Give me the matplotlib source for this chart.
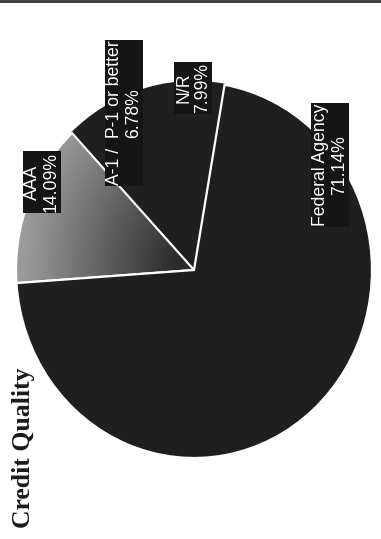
"""Credit Quality pie chart (scanned page, rotated 90 degrees)."""
import matplotlib
matplotlib.use('Agg')
import matplotlib.pyplot as plt
import numpy as np
from matplotlib.colors import LinearSegmentedColormap
from matplotlib.lines import Line2D

labels = ['AAA', 'A-1 /  P-1 or better', 'N/R', 'Federal Agency']
shares = [14.09, 6.78, 7.99, 71.14]
title = 'Credit Quality'

W, H = 381, 539
DARK = '#1f1f1f'


def px(x, y):
    """Image pixel (from top-left) -> figure fraction."""
    return x / W, 1 - y / H


fig = plt.figure(figsize=(W / 100, H / 100), dpi=100)
fig.patch.set_facecolor('white')

# axes box matches the (slightly oval) scanned pie
cx, cy, rx, ry = 194, 270, 178, 188
ax = fig.add_axes([(cx - rx) / W, (H - cy - ry) / H, 2 * rx / W, 2 * ry / H])
wedges, _ = ax.pie(shares, startangle=184, counterclock=False,
                   colors=[DARK] * len(shares),
                   wedgeprops={'edgecolor': 'white', 'linewidth': 1.6})
ax.set_xlim(-1, 1)
ax.set_ylim(-1, 1)
ax.set_aspect('auto')
ax.axis('off')

# no visible divider between A-1 and N/R in the scan
for w in wedges[1:3]:
    w.set_edgecolor(DARK)
    w.set_linewidth(1.6)
wedges[0].set_zorder(1.2)
wedges[3].set_zorder(1.2)

# AAA slice: grey shading, dark at the centre and light at the rim
wedges[0].set_facecolor('none')
gx, gy = np.meshgrid(np.linspace(-1, 1, 300), np.linspace(-1, 1, 300))
dist = np.hypot(gx * 1.05, gy * 0.9)
cmap = LinearSegmentedColormap.from_list('aaa', ['#2a2a2a', '#626262', '#9a9a9a'])
im = ax.imshow(dist, extent=(-1, 1, -1, 1), origin='lower', cmap=cmap,
               vmin=0.1, vmax=1.0, zorder=0.5, aspect='auto')
im.set_clip_path(wedges[0])

# rotated labels in black boxes
label_pos = [(42, 182), (124, 113), (193, 88), (330, 165)]
for name, share, (x, y) in zip(labels, shares, label_pos):
    fig.text(*px(x, y), f'{name}\n{share:.2f}%', rotation=90,
             ha='center', va='center', multialignment='center',
             color='white', fontsize=12.7, family='Liberation Sans',
             linespacing=1.15, zorder=3,
             bbox={'boxstyle': 'square,pad=0.05', 'facecolor': '#151515',
                   'edgecolor': 'none'})

fig.text(*px(24, 448), title, rotation=90, ha='center', va='center',
         fontsize=18.5, fontweight='bold', family='Liberation Serif',
         color='#1a1a1a')

# dark rule along the top of the scan
fig.add_artist(Line2D([0, 1], [1 - 1 / H, 1 - 1 / H], color='#333333',
                      linewidth=2, transform=fig.transFigure))

fig.savefig('out.png', dpi=100, facecolor='white')
